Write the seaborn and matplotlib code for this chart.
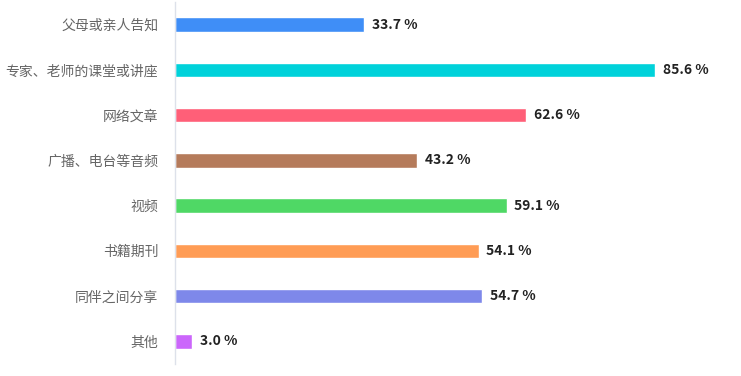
import numpy as np
import pandas as pd
import seaborn as sns
import matplotlib.pyplot as plt
from matplotlib.ticker import FixedLocator

categories = ["父母或亲人告知", "专家、老师的课堂或讲座", "网络文章", "广播、电台等音频",
              "视频", "书籍期刊", "同伴之间分享", "其他"]
values = [33.7, 85.6, 62.6, 43.2, 59.1, 54.1, 54.7, 3.0]
colors = ["#3f8ef7", "#00d2da", "#ff5f78", "#b57b5b", "#4fd865", "#ff9c55", "#7e88ea", "#cb66fb"]

sns.set_style("white")
plt.rcParams["font.family"] = ["Noto Sans CJK SC", "DejaVu Sans"]

df = pd.DataFrame({"cat": categories, "val": values})

fig = plt.figure(figsize=(7.41, 3.76), dpi=100)
ax = fig.add_axes([175 / 741, 12 / 376, 561 / 741, 362 / 376])
sns.barplot(data=df, x="val", y="cat", hue="cat", palette=colors, width=0.32,
            saturation=1, legend=False, ax=ax, orient="h")

ax.set_xlim(0, 100)
ax.set_ylim(len(categories) - 0.5, -0.5)
ax.set_xlabel("")
ax.set_ylabel("")
ax.set_xticks([])

for s in ["top", "right", "bottom"]:
    ax.spines[s].set_visible(False)
ax.spines["left"].set_color("#dde1ea")
ax.spines["left"].set_linewidth(1.0)

ax.tick_params(axis="y", which="major", length=0, pad=12, labelsize=10, labelcolor="#666666")
ax.yaxis.set_minor_locator(FixedLocator(np.arange(-0.5, len(categories), 1.0)))
ax.tick_params(axis="y", which="minor", length=7, width=1.0, color="#dde1ea")

for i, v in enumerate(values):
    ax.text(v + 1.4, i, f"{v:.1f} %", va="center", ha="left", fontsize=10,
            fontweight="bold", color="#222222")

fig.savefig("out.png", dpi=100)
